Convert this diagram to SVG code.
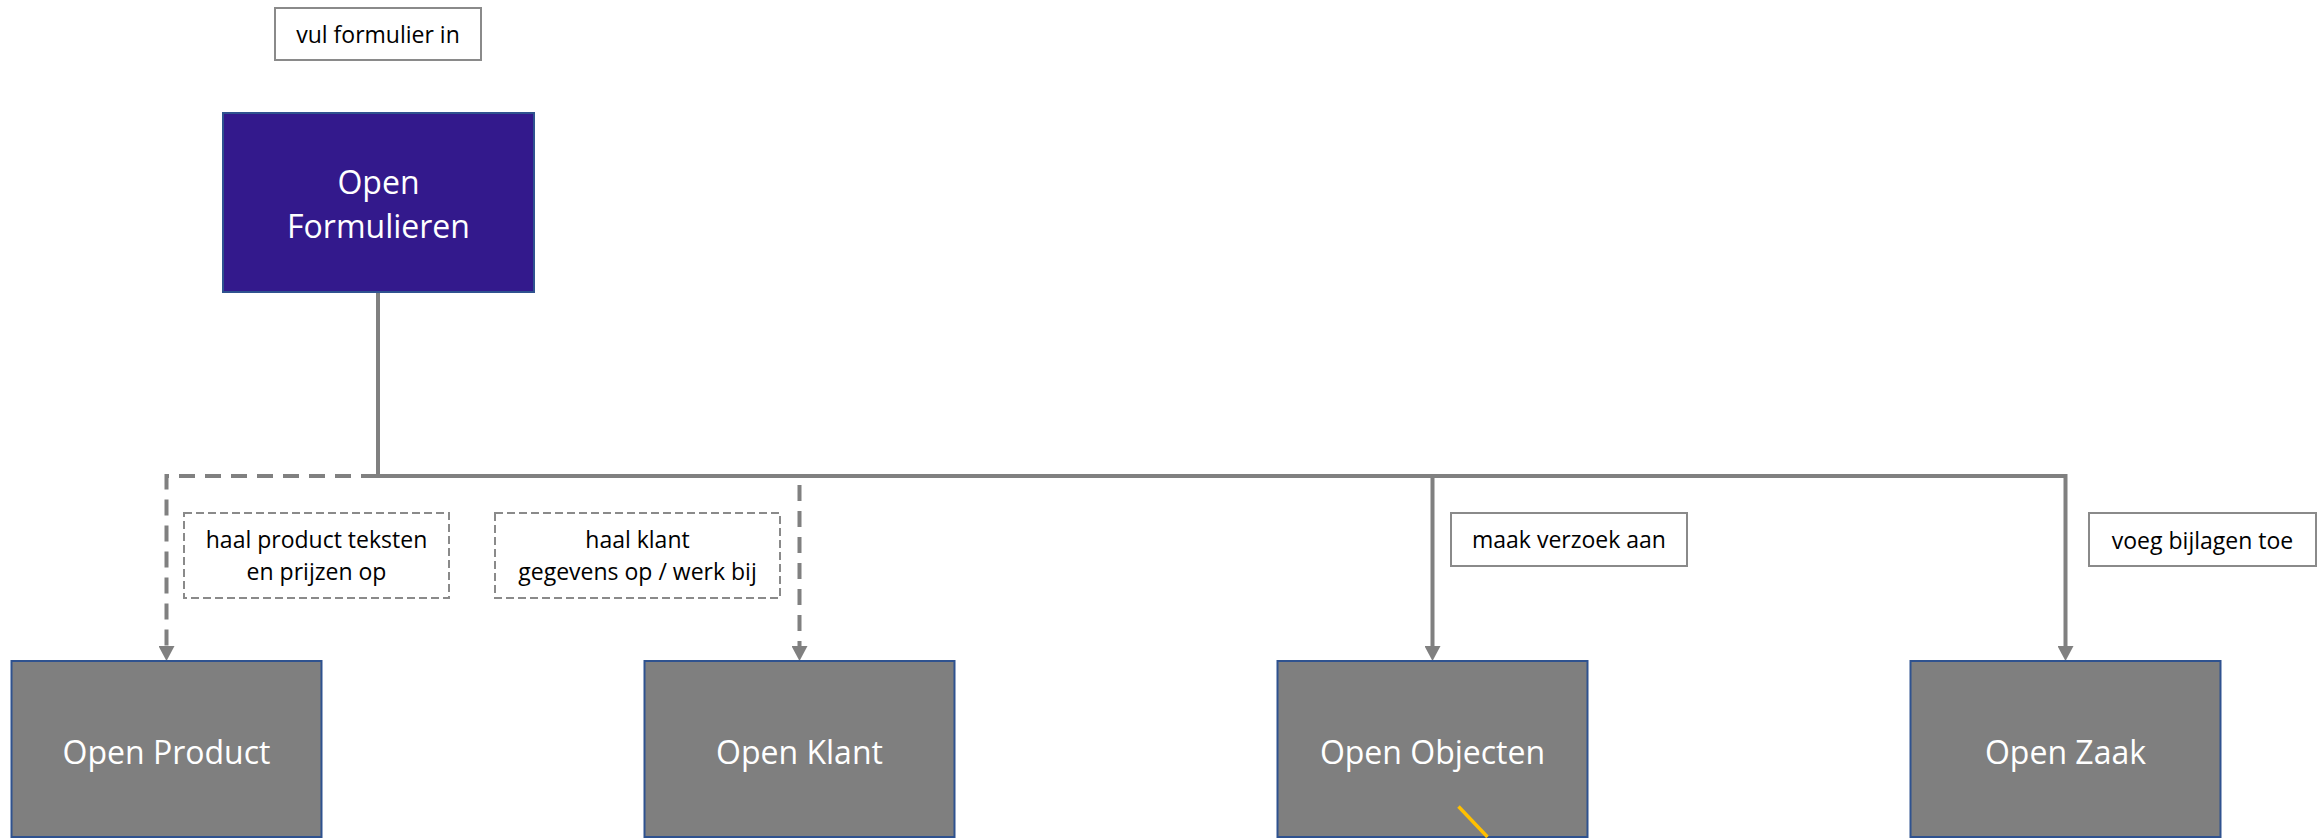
<svg xmlns="http://www.w3.org/2000/svg" width="2323" height="838" viewBox="0 0 2323 838">
<defs>
<style>
.node rect{stroke:#2F528F;stroke-width:2}
.src rect{fill:#33198C}
.sys rect{fill:#7F7F7F}
.ntext{font-family:"Open Sans","Liberation Sans",sans-serif;font-size:32px;fill:#FFFFFF;text-anchor:middle}
.lbl rect{fill:#FFFFFF;stroke:#8A8A8A;stroke-width:2}
.lbl.dash rect{stroke-dasharray:8 4}
.ltext{font-family:"Open Sans","Liberation Sans",sans-serif;font-size:23px;fill:#000000;text-anchor:middle}
.conn{fill:none;stroke:#808080;stroke-width:4}
.conn.dashed{stroke-dasharray:16 10}
</style>
<marker id="arrow" markerUnits="userSpaceOnUse" viewBox="0 0 15 16" markerWidth="15" markerHeight="16" refX="4" refY="8" orient="auto">
<path d="M0,0 L15,8 L0,16 z" fill="#808080"/>
</marker>
</defs>
<rect x="0" y="0" width="2323" height="838" fill="#FFFFFF"/>

<g id="connectors">
<path class="conn" d="M378,292 V476 H2065.5 V650" marker-end="url(#arrow)"/>
<path class="conn" d="M1432.5,476 V650" marker-end="url(#arrow)"/>
<path class="conn dashed" d="M377,476 H166.5 V650" marker-end="url(#arrow)"/>
<path class="conn dashed" d="M799.5,485 V650" marker-end="url(#arrow)"/>
</g>

<g id="label-vul-formulier" class="lbl">
<rect x="275" y="8" width="206" height="52"/>
<text class="ltext" x="378" y="43">vul formulier in</text>
</g>

<g id="node-open-formulieren" class="node src">
<rect x="223" y="113" width="311" height="179"/>
<text class="ntext" x="378.5" y="194">Open</text>
<text class="ntext" x="378.5" y="238">Formulieren</text>
</g>

<g id="label-haal-product" class="lbl dash">
<rect x="184" y="513" width="265" height="85"/>
<text class="ltext" x="316.5" y="548">haal product teksten</text>
<text class="ltext" x="316.5" y="580">en prijzen op</text>
</g>

<g id="label-haal-klant" class="lbl dash">
<rect x="495" y="513" width="285" height="85"/>
<text class="ltext" x="637.5" y="548">haal klant</text>
<text class="ltext" x="637.5" y="580">gegevens op / werk bij</text>
</g>

<g id="label-maak-verzoek" class="lbl">
<rect x="1451" y="513" width="236" height="53"/>
<text class="ltext" x="1569" y="548">maak verzoek aan</text>
</g>

<g id="label-voeg-bijlagen" class="lbl">
<rect x="2089" y="513" width="227" height="53"/>
<text class="ltext" x="2202.5" y="549">voeg bijlagen toe</text>
</g>

<g id="node-open-product" class="node sys">
<rect x="11.5" y="661" width="310" height="176"/>
<text class="ntext" x="166.5" y="764">Open Product</text>
</g>

<g id="node-open-klant" class="node sys">
<rect x="644.5" y="661" width="310" height="176"/>
<text class="ntext" x="799.5" y="764">Open Klant</text>
</g>

<g id="node-open-objecten" class="node sys">
<rect x="1277.5" y="661" width="310" height="176"/>
<text class="ntext" x="1432.5" y="764">Open Objecten</text>
<line x1="1458.5" y1="806.5" x2="1487.5" y2="837" stroke="#FFC000" stroke-width="3.5"/>
</g>

<g id="node-open-zaak" class="node sys">
<rect x="1910.5" y="661" width="310" height="176"/>
<text class="ntext" x="2065.5" y="764">Open Zaak</text>
</g>
</svg>
